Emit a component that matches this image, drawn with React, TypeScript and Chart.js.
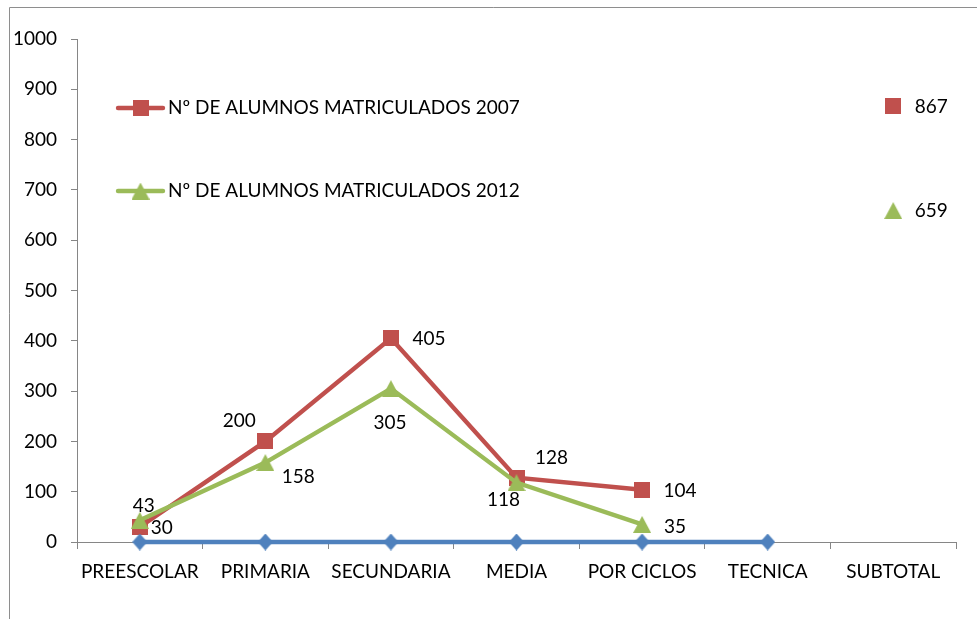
import React, { useEffect, useRef } from 'react';
import { Chart, registerables } from 'chart.js';

Chart.register(...registerables);

const categories = ['PREESCOLAR', 'PRIMARIA', 'SECUNDARIA', 'MEDIA', 'POR CICLOS', 'TECNICA', 'SUBTOTAL'];
const alumnos2007: (number | null)[] = [30, 200, 405, 128, 104, null, 867];
const alumnos2012: (number | null)[] = [43, 158, 305, 118, 35, null, 659];
const serieBase: (number | null)[] = [0, 0, 0, 0, 0, 0, null];
const seriesNames = ['Nº DE ALUMNOS MATRICULADOS 2007', 'Nº DE ALUMNOS MATRICULADOS 2012', 'Serie3'];
const yMin = 0;
const yMax = 1000;
const yStep = 100;

// label placement (style): offset of label centre from the point, in px
const labelOffsets2007: ([number, number] | null)[] = [[22, 1], [-26, -21], [38, 1], [35, -20], [38, 1], null, [38, 1]];
const labelOffsets2012: ([number, number] | null)[] = [[4, -14], [33, 14], [-1, 34], [-13, 17], [33, 2], null, [38, 0]];

const RED = '#C0504D';
const GREEN = '#9BBB59';
const BLUE = '#4F81BD';
const AXIS = '#868686';
const FONT = 'Lato';
const FSIZE = 19;

function makeMarker(shape: 'square' | 'triangle' | 'diamond', color: string, w: number, h: number) {
  const c = document.createElement('canvas');
  c.width = w;
  c.height = h;
  const ctx = c.getContext('2d')!;
  ctx.fillStyle = color;
  ctx.beginPath();
  if (shape === 'square') {
    ctx.rect(0, 0, w, h);
  } else if (shape === 'triangle') {
    ctx.moveTo(w / 2, 0);
    ctx.lineTo(w, h);
    ctx.lineTo(0, h);
    ctx.closePath();
  } else {
    ctx.moveTo(w / 2, 0);
    ctx.lineTo(w, h / 2);
    ctx.lineTo(w / 2, h);
    ctx.lineTo(0, h / 2);
    ctx.closePath();
  }
  ctx.fill();
  return c;
}

export default function App() {
  const ref = useRef<HTMLCanvasElement | null>(null);

  useEffect(() => {
    if (!ref.current) return;
    const square = makeMarker('square', RED, 16, 16);
    const triangle = makeMarker('triangle', GREEN, 18, 17);
    const diamond = makeMarker('diamond', BLUE, 15, 17);

    const framePlugin = {
      id: 'frame',
      beforeDraw(chart: any) {
        const ctx = chart.ctx;
        ctx.save();
        ctx.fillStyle = '#ffffff';
        ctx.fillRect(0, 0, chart.width, chart.height);
        ctx.strokeStyle = '#8e8e8e';
        ctx.lineWidth = 1;
        ctx.beginPath();
        ctx.moveTo(9.5, chart.height);
        ctx.lineTo(9.5, 7.5);
        ctx.lineTo(chart.width, 7.5);
        ctx.stroke();
        ctx.restore();
      },
    };

    const labelsPlugin = {
      id: 'valueLabels',
      afterDatasetsDraw(chart: any) {
        const ctx = chart.ctx;
        ctx.save();
        ctx.font = `${FSIZE}px ${FONT}`;
        ctx.fillStyle = '#000000';
        ctx.textAlign = 'center';
        ctx.textBaseline = 'middle';
        const sets: [number, ([number, number] | null)[]][] = [[0, labelOffsets2007], [1, labelOffsets2012]];
        sets.forEach(([di, offs]) => {
          const meta = chart.getDatasetMeta(di);
          const data = chart.data.datasets[di].data;
          meta.data.forEach((pt: any, i: number) => {
            const v = data[i];
            const o = offs[i];
            if (v == null || !o) return;
            ctx.fillText(String(v), pt.x + o[0], pt.y + o[1]);
          });
        });
        ctx.restore();
      },
    };

    const legendPlugin = {
      id: 'innerLegend',
      afterDraw(chart: any) {
        const ctx = chart.ctx;
        const a = chart.chartArea;
        const items: [string, string, HTMLCanvasElement, number][] = [
          [seriesNames[0], RED, square, a.top + 69],
          [seriesNames[1], GREEN, triangle, a.top + 152],
        ];
        ctx.save();
        items.forEach(([text, color, img, y]) => {
          const x0 = a.left + 41;
          const x1 = a.left + 86;
          ctx.strokeStyle = color;
          ctx.lineWidth = 4.4;
          ctx.lineCap = 'round';
          ctx.beginPath();
          ctx.moveTo(x0, y);
          ctx.lineTo(x1, y);
          ctx.stroke();
          ctx.drawImage(img, (x0 + x1) / 2 - img.width / 2, y - img.height / 2);
          ctx.font = `${FSIZE}px ${FONT}`;
          ctx.fillStyle = '#000000';
          ctx.textAlign = 'left';
          ctx.textBaseline = 'middle';
          ctx.fillText(text, x1 + 5, y);
        });
        ctx.restore();
      },
    };

    const tickFont = { family: FONT, size: FSIZE };

    const chart = new Chart(ref.current, {
      type: 'line',
      data: {
        labels: categories,
        datasets: [
          {
            label: seriesNames[0],
            data: alumnos2007,
            borderColor: RED,
            backgroundColor: RED,
            borderWidth: 4.4,
            pointStyle: square as any,
            pointRadius: 8,
            spanGaps: false,
            clip: false as any,
            order: 3,
          },
          {
            label: seriesNames[1],
            data: alumnos2012,
            borderColor: GREEN,
            backgroundColor: GREEN,
            borderWidth: 4.4,
            pointStyle: triangle as any,
            pointRadius: 8,
            spanGaps: false,
            clip: false as any,
            order: 2,
          },
          {
            label: seriesNames[2],
            data: serieBase,
            borderColor: BLUE,
            backgroundColor: BLUE,
            borderWidth: 4.4,
            pointStyle: diamond as any,
            pointRadius: 8,
            spanGaps: false,
            clip: false as any,
            order: 1,
          },
        ],
      },
      options: {
        responsive: false,
        animation: false,
        layout: { padding: { left: 10, top: 39, right: 21, bottom: 0 } },
        plugins: {
          legend: { display: false },
          tooltip: { enabled: false },
        },
        scales: {
          x: {
            type: 'category',
            offset: true,
            afterFit: (s: any) => { s.height = 77; },
            grid: { display: true, drawOnChartArea: false, drawTicks: true, tickLength: 7, color: AXIS, offset: true },
            border: { display: true, color: AXIS, width: 1 },
            ticks: { font: tickFont, color: '#000000', padding: 11, maxRotation: 0, autoSkip: false },
          },
          y: {
            min: yMin,
            max: yMax,
            afterFit: (s: any) => { s.width = 67; },
            grid: { display: true, drawOnChartArea: false, drawTicks: true, tickLength: 6, color: AXIS },
            border: { display: true, color: AXIS, width: 1 },
            ticks: {
              stepSize: yStep,
              font: tickFont,
              color: '#000000',
              padding: 14,
              callback: (v: any) => String(v),
            },
          },
        },
      },
      plugins: [framePlugin, labelsPlugin, legendPlugin],
    });
    return () => chart.destroy();
  }, []);

  return (
    <div style={{ position: 'fixed', left: 0, top: 0, width: 977, height: 619, background: '#fff' }}>
      <canvas ref={ref} width={977} height={619} style={{ display: 'block' }} />
    </div>
  );
}
